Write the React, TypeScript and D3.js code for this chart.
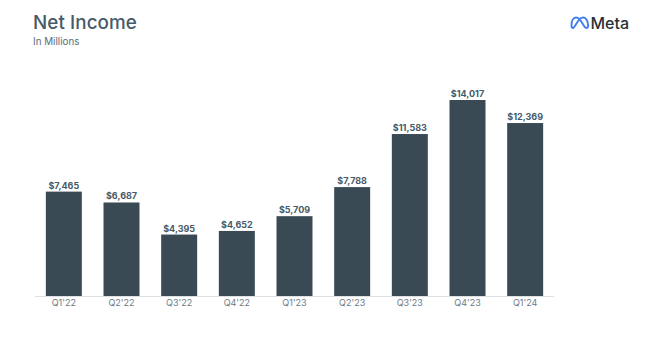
import React from "react";
import * as d3 from "d3";

const categories = ["Q1'22", "Q2'22", "Q3'22", "Q4'22", "Q1'23", "Q2'23", "Q3'23", "Q4'23", "Q1'24"];
const netIncome = [7465, 6687, 4395, 4652, 5709, 7788, 11583, 14017, 12369];
const title = "Net Income";
const subtitle = "In Millions";
const brand = "Meta";

const W = 660, H = 355;
const x = d3.scaleBand<string>().domain(categories).range([35, 554]).paddingInner(0.376).paddingOuter(0.188);
const y = d3.scaleLinear().domain([0, 14017]).range([296, 100]);
const fmt = d3.format("$,");
const logoPath = "M571.5 25 C571.5 20.5 573.5 17.5 576 17.5 C578.5 17.5 580.5 20 582.5 23.5 C584.5 27 585.5 28 586.5 28 C588 28 588.5 26.5 588 24 C587.5 20.5 585.5 17.5 583 17.5 C580.5 17.5 578.5 20 576.5 23.5 C574.5 27 573.5 28 572.8 28 C571.8 28 571.5 26.5 571.5 25 Z";

export default function App() {
  return (
    <svg width={W} height={H} viewBox={`0 0 ${W} ${H}`} style={{ position: "fixed", left: 0, top: 0, background: "#fff" }}>
      <text x={33} y={28.5} fontFamily="Inter" fontSize={18.8} fontWeight={500} fill="#465a69" letterSpacing={0.1}>{title}</text>
      <text x={33} y={45} fontFamily="Inter" fontSize={9.8} fill="#5b6b78">{subtitle}</text>
      <path d={logoPath} fill="none" stroke="#3f7df0" strokeWidth={1.9} strokeLinejoin="round" />
      <text x={590.5} y={28.5} fontFamily="Inter" fontSize={16} fontWeight={500} fill="#2a3138">{brand}</text>
      {categories.map((c, i) => {
        const v = netIncome[i];
        const bx = x(c) ?? 0;
        const cx = bx + x.bandwidth() / 2;
        return (
          <g key={c}>
            <rect x={bx} y={y(v)} width={x.bandwidth()} height={296 - y(v)} fill="#3a4a54" />
            <text x={cx} y={y(v) - 3} textAnchor="middle" fontFamily="Inter" fontWeight={700} fontSize={9} fill="#465a69">{fmt(v)}</text>
            <text x={cx} y={306} textAnchor="middle" fontFamily="Inter" fontSize={9} fill="#6b7a85">{c}</text>
          </g>
        );
      })}
      <line x1={35} x2={554} y1={296.5} y2={296.5} stroke="#dde1e4" />
    </svg>
  );
}
